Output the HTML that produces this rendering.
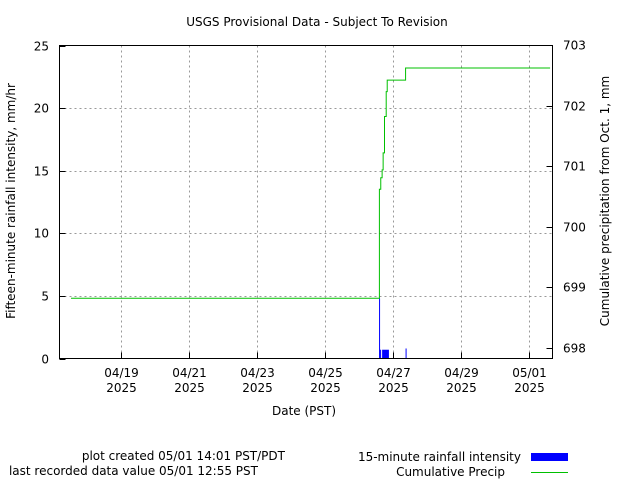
<!DOCTYPE html>
<html><head><meta charset="utf-8"><style>
body{margin:0;background:#fff;}
svg text{font-family:"DejaVu Sans","Liberation Sans",sans-serif;font-size:12px;fill:#000;}
</style></head><body>
<svg id="c" width="640" height="480" xmlns="http://www.w3.org/2000/svg">
<text x="317" y="26" text-anchor="middle">USGS Provisional Data - Subject To Revision</text>
<g id="grid"></g>
<g id="marks"></g>
<rect x="59.5" y="45.5" width="493" height="313" fill="none" stroke="#000"/>
<g id="axes"></g>
<text transform="translate(15,201) rotate(-90)" text-anchor="middle">Fifteen-minute rainfall intensity, mm/hr</text>
<text transform="translate(609,201) rotate(-90)" text-anchor="middle">Cumulative precipitation from Oct. 1, mm</text>
<text x="304" y="415" text-anchor="middle">Date (PST)</text>
<text x="285" y="460" text-anchor="end">plot created 05/01 14:01 PST/PDT</text>
<text x="258" y="475" text-anchor="end">last recorded data value 05/01 12:55 PST</text>
<g><text x="521" y="461" text-anchor="end">15-minute rainfall intensity</text><rect x="531" y="453" width="37" height="8" fill="#0000ff"/></g>
<g><text x="505" y="476" text-anchor="end">Cumulative Precip</text><line x1="531" y1="472.5" x2="568" y2="472.5" stroke="#00c000"/></g>
</svg>
<script>
const xTickLabels=["04/19","04/21","04/23","04/25","04/27","04/29","05/01"];
const xTickDays=[19,21,23,25,27,29,31];
const yLeftTicks=[0,5,10,15,20,25];
const yRightTicks=[698,699,700,701,702,703];
// cumulative: day (April, fractional), value mm
const cumDays=[17.53,26.60,26.64,26.68,26.71,26.75,26.80,26.83,26.87,27.37];
const cumVals=[698.82,700.62,700.81,700.94,701.22,701.82,702.23,702.42,702.42,702.62];
const cumEnd=31.62;
// rain bars: start day, width in days, intensity
const rainDays=[26.59,26.62,26.68,27.37];
const rainWidths=[0.01,0.03,0.2,0.005];
const rainVals=[4.8,0.7,0.7,0.8];
const L=59.5,R=552.5,T=45.5,B=358.5;
const X=d=>121+(d-19)*34;
const YL=v=>B-v*(B-T)/25;
const YR=v=>348-(v-698)*60.6;
const NS="http://www.w3.org/2000/svg";
function mk(p,t,a){const e=document.createElementNS(NS,t);for(const k in a)e.setAttribute(k,a[k]);p.appendChild(e);return e;}
const grid=document.getElementById('grid'),axes=document.getElementById('axes'),marks=document.getElementById('marks');
xTickDays.forEach((d,i)=>{const x=Math.round(X(d))+0.5;
 const g=mk(grid,'line',{x1:x,x2:x,y1:T,y2:B,stroke:'#999','stroke-dasharray':'2,3'});
 
 
 mk(axes,'line',{x1:x,x2:x,y1:B,y2:B-6,stroke:'#000'});
 const t=mk(axes,'text',{x:x,y:377,'text-anchor':'middle'});t.textContent=xTickLabels[i];
 
 
 const t2=mk(axes,'text',{x:x,y:392,'text-anchor':'middle'});t2.textContent='2025';
 
 
});
yLeftTicks.forEach(v=>{const y=Math.round(YL(v))+0.5;
 if(v>0&&v<25){const g=mk(grid,'line',{x1:L,x2:R,y1:y,y2:y,stroke:'#999','stroke-dasharray':'2,3'});
 
 }
 mk(axes,'line',{x1:L,x2:L+6,y1:y,y2:y,stroke:'#000'});
 const t=mk(axes,'text',{x:49,y:y+4,'text-anchor':'end'});t.textContent=v;
 
 
});
yRightTicks.forEach(v=>{const y=Math.round(YR(v))+0.5;
 mk(axes,'line',{x1:R,x2:R-6,y1:y,y2:y,stroke:'#000'});
 const t=mk(axes,'text',{x:563,y:y+4});t.textContent=v;
 
 
});
rainDays.forEach((d,i)=>{const x=X(d),w=Math.max(1,rainWidths[i]*34);
 const r=mk(marks,'rect',{x:x,y:YL(rainVals[i]),width:w,height:B-YL(rainVals[i]),fill:'#0000ff'});
 
 
});
let p='';cumDays.forEach((d,i)=>{const x=X(d),y=YR(cumVals[i]);
 if(i===0)p+='M'+x+','+y;else p+='H'+x+'V'+y;});
p+='H'+X(cumEnd);
const pl=mk(marks,'path',{d:p,fill:'none',stroke:'#00c000','stroke-width':1});


</script>
</body></html>
